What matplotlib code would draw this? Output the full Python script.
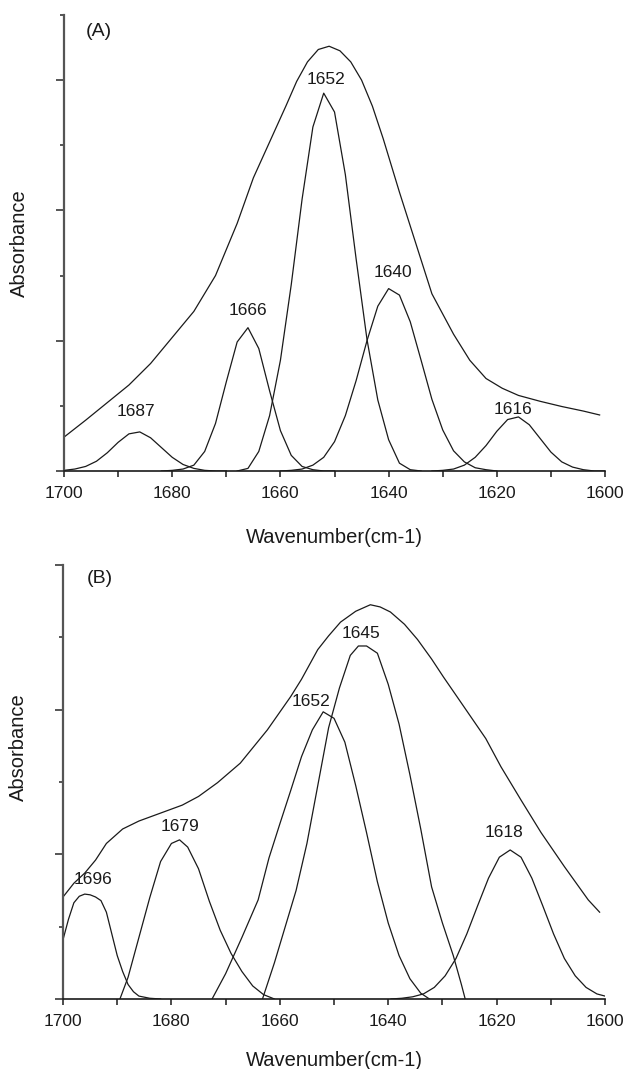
import matplotlib
matplotlib.use('Agg')
import matplotlib.pyplot as plt
import numpy as np

plt.rcParams['font.family'] = ['Liberation Sans', 'DejaVu Sans']

# ---- Panel (A): fitted components + envelope (wavenumber, absorbance) ----
a_env_w = [1700, 1696, 1692, 1688, 1684, 1680, 1676, 1672, 1668, 1665, 1662, 1659, 1657, 1655, 1653,
           1651, 1649, 1647, 1645, 1643, 1641, 1638, 1635, 1632, 1628, 1625, 1622, 1619, 1616, 1612,
           1608, 1604, 1601]
a_env_v = [0.52, 0.78, 1.05, 1.32, 1.65, 2.05, 2.45, 3.0, 3.8, 4.5, 5.05, 5.6, 5.98, 6.28, 6.47,
           6.52, 6.45, 6.28, 6.0, 5.6, 5.1, 4.28, 3.5, 2.72, 2.1, 1.7, 1.42, 1.27, 1.16, 1.07,
           0.99, 0.92, 0.86]

a1687_w = [1700, 1698, 1696, 1694, 1692, 1690, 1688, 1686, 1684, 1682, 1680, 1678, 1676, 1674, 1672, 1670]
a1687_v = [0.01, 0.03, 0.07, 0.15, 0.28, 0.44, 0.57, 0.6, 0.51, 0.36, 0.21, 0.10, 0.04, 0.01, 0.0, 0.0]

a1666_w = [1682, 1680, 1678, 1676, 1674, 1672, 1670, 1668, 1666, 1664, 1662, 1660, 1658, 1656, 1654, 1652, 1650]
a1666_v = [0.0, 0.01, 0.03, 0.09, 0.30, 0.73, 1.37, 1.98, 2.2, 1.88, 1.23, 0.62, 0.24, 0.07, 0.02, 0.0, 0.0]

a1652_w = [1668, 1666, 1664, 1662, 1660, 1658, 1656, 1654, 1652, 1650, 1648, 1646, 1644, 1642, 1640, 1638, 1636, 1634]
a1652_v = [0.0, 0.04, 0.3, 0.85, 1.7, 2.86, 4.17, 5.28, 5.8, 5.51, 4.55, 3.25, 2.02, 1.09, 0.48, 0.12, 0.02, 0.0]

a1640_w = [1660, 1658, 1656, 1654, 1652, 1650, 1648, 1646, 1644, 1642, 1640, 1638, 1636, 1634, 1632,
           1630, 1628, 1626, 1624, 1622, 1620]
a1640_v = [0.0, 0.01, 0.03, 0.09, 0.21, 0.45, 0.85, 1.39, 2.0, 2.53, 2.8, 2.7, 2.29, 1.70, 1.10,
           0.63, 0.31, 0.14, 0.05, 0.02, 0.0]

a1616_w = [1632, 1630, 1628, 1626, 1624, 1622, 1620, 1618, 1616, 1614, 1612, 1610, 1608, 1606, 1604, 1602, 1600]
a1616_v = [0.0, 0.01, 0.03, 0.09, 0.21, 0.39, 0.61, 0.79, 0.83, 0.71, 0.50, 0.29, 0.14, 0.06, 0.02, 0.0, 0.0]

a_labels = ['1687', '1666', '1652', '1640', '1616']

# ---- Panel (B) ----
b_env_w = [1700, 1698, 1696, 1694, 1692, 1689, 1686, 1682, 1678, 1675, 1671.5, 1667.3, 1662.3, 1658,
           1656, 1653, 1651, 1648.8, 1646, 1643.3, 1641.5, 1639.6, 1637, 1634.6, 1632, 1629.8,
           1627.5, 1625.3, 1622, 1619.2, 1615.5, 1611.8, 1607.5, 1603.1, 1601]
b_env_v = [1.41, 1.6, 1.74, 1.92, 2.15, 2.35, 2.46, 2.57, 2.68, 2.8, 2.99, 3.26, 3.72, 4.18,
           4.42, 4.83, 5.02, 5.21, 5.36, 5.45, 5.42, 5.35, 5.18, 4.97, 4.7, 4.45,
           4.2, 3.96, 3.6, 3.21, 2.75, 2.30, 1.83, 1.37, 1.2]

b1696_w = [1700, 1699, 1698, 1697, 1696, 1695, 1694, 1693, 1692, 1691, 1690, 1689, 1688, 1687, 1686, 1684, 1682]
b1696_v = [0.82, 1.1, 1.33, 1.42, 1.45, 1.44, 1.41, 1.36, 1.2, 0.9, 0.6, 0.38, 0.2, 0.1, 0.04, 0.01, 0.0]

b1679_w = [1689.5, 1688, 1686, 1684, 1682, 1680, 1678.5, 1677, 1675, 1673, 1671, 1669, 1667, 1665, 1663, 1661]
b1679_v = [0.0, 0.3, 0.85, 1.4, 1.9, 2.15, 2.2, 2.1, 1.8, 1.35, 0.95, 0.63, 0.38, 0.18, 0.06, 0.0]

b1652_w = [1672.5, 1670, 1667, 1664, 1662, 1660, 1658, 1656, 1654, 1652, 1650, 1648, 1646, 1644,
           1642, 1640, 1638, 1636, 1634, 1632.4]
b1652_v = [0.0, 0.35, 0.85, 1.37, 1.95, 2.42, 2.88, 3.35, 3.72, 3.97, 3.88, 3.55, 2.95, 2.3,
           1.62, 1.05, 0.6, 0.28, 0.08, 0.0]

b1645_w = [1663.2, 1661, 1659, 1657, 1655, 1653, 1651, 1649, 1647, 1645.5, 1644, 1642, 1640, 1638,
           1636, 1634, 1632, 1630, 1628, 1626.5, 1625.8]
b1645_v = [0.0, 0.5, 1.0, 1.5, 2.15, 2.95, 3.75, 4.3, 4.75, 4.88, 4.88, 4.78, 4.35, 3.8,
           3.1, 2.35, 1.55, 1.05, 0.6, 0.2, 0.0]

b1618_w = [1639.5, 1637.5, 1635.5, 1633.5, 1631.5, 1629.5, 1627.5, 1625.5, 1623.5, 1621.5, 1619.5,
           1617.5, 1615.5, 1613.5, 1611.5, 1609.5, 1607.5, 1605.5, 1603.5, 1601.5, 1600]
b1618_v = [0.0, 0.01, 0.03, 0.07, 0.16, 0.32, 0.56, 0.90, 1.29, 1.67, 1.96,
           2.06, 1.96, 1.67, 1.29, 0.90, 0.56, 0.32, 0.16, 0.07, 0.04]

b_labels = ['1696', '1679', '1652', '1645', '1618']

INK = '#1a1a1a'


def style_axis(ax, ymax):
    ax.set_xlim(1700, 1600)
    ax.set_ylim(0, ymax)
    ax.spines['top'].set_visible(False)
    ax.spines['right'].set_visible(False)
    ax.spines['left'].set_color('#555555')
    ax.spines['left'].set_linewidth(1.6)
    ax.spines['bottom'].set_color(INK)
    ax.spines['bottom'].set_linewidth(1.2)
    ax.set_xticks(np.arange(1700, 1599, -20))
    ax.set_xticks(np.arange(1690, 1600, -20), minor=True)
    ax.set_yticks(np.arange(0, ymax + 1, 2))
    ax.set_yticks(np.arange(1, ymax + 1, 2), minor=True)
    ax.set_yticklabels([])
    ax.tick_params(axis='x', which='both', direction='out', length=4, width=1.1,
                   color=INK, labelsize=12.5, labelcolor=INK, pad=7)
    ax.tick_params(axis='y', which='major', direction='out', length=5.5, width=1.4, color='#555555')
    ax.tick_params(axis='y', which='minor', direction='out', length=2.8, width=1.4, color='#555555')


def draw_panel(ax, env, comps, labels, offsets):
    ax.plot(env[0], env[1], color=INK, lw=0.9)
    for (w, v), lab, (dx, dy) in zip(comps, labels, offsets):
        ax.plot(w, v, color=INK, lw=0.9)
        i = int(np.argmax(v))
        ax.annotate(lab, (w[i], v[i]), xytext=(dx, dy), textcoords='offset pixels',
                    ha='center', va='center', fontsize=12.5, color=INK)


fig = plt.figure(figsize=(6.24, 10.69), dpi=100)
ax_a = fig.add_axes([0.1026, 0.5594, 0.867, 0.4266])
ax_b = fig.add_axes([0.101, 0.0655, 0.8686, 0.406])

style_axis(ax_a, 7)
draw_panel(ax_a, (a_env_w, a_env_v),
           [(a1687_w, a1687_v), (a1666_w, a1666_v), (a1652_w, a1652_v),
            (a1640_w, a1640_v), (a1616_w, a1616_v)],
           a_labels, [(-4, 20), (0, 17), (2, 14), (4, 16), (-5, 7)])
ax_a.text(0.065, 0.963, '(A)', transform=ax_a.transAxes, ha='center', va='center',
          fontsize=14, color=INK)

style_axis(ax_b, 6)
draw_panel(ax_b, (b_env_w, b_env_v),
           [(b1696_w, b1696_v), (b1679_w, b1679_v), (b1652_w, b1652_v),
            (b1645_w, b1645_v), (b1618_w, b1618_v)],
           b_labels, [(8, 15), (0, 13), (-12, 10), (3, 12), (-6, 17)])
ax_b.text(0.067, 0.968, '(B)', transform=ax_b.transAxes, ha='center', va='center',
          fontsize=14, color=INK)

for ax, ly, xly in [(ax_a, 0.5, -0.125), (ax_b, 0.58, -0.12)]:
    ax.set_ylabel('Absorbance', fontsize=14.5, color=INK)
    ax.yaxis.set_label_coords(-0.0647, ly)
    ax.set_xlabel('Wavenumber(cm-1)', fontsize=14.5, color=INK)
    ax.xaxis.set_label_coords(0.5, xly)

fig.savefig('out.png', dpi=100)
plt.close(fig)
